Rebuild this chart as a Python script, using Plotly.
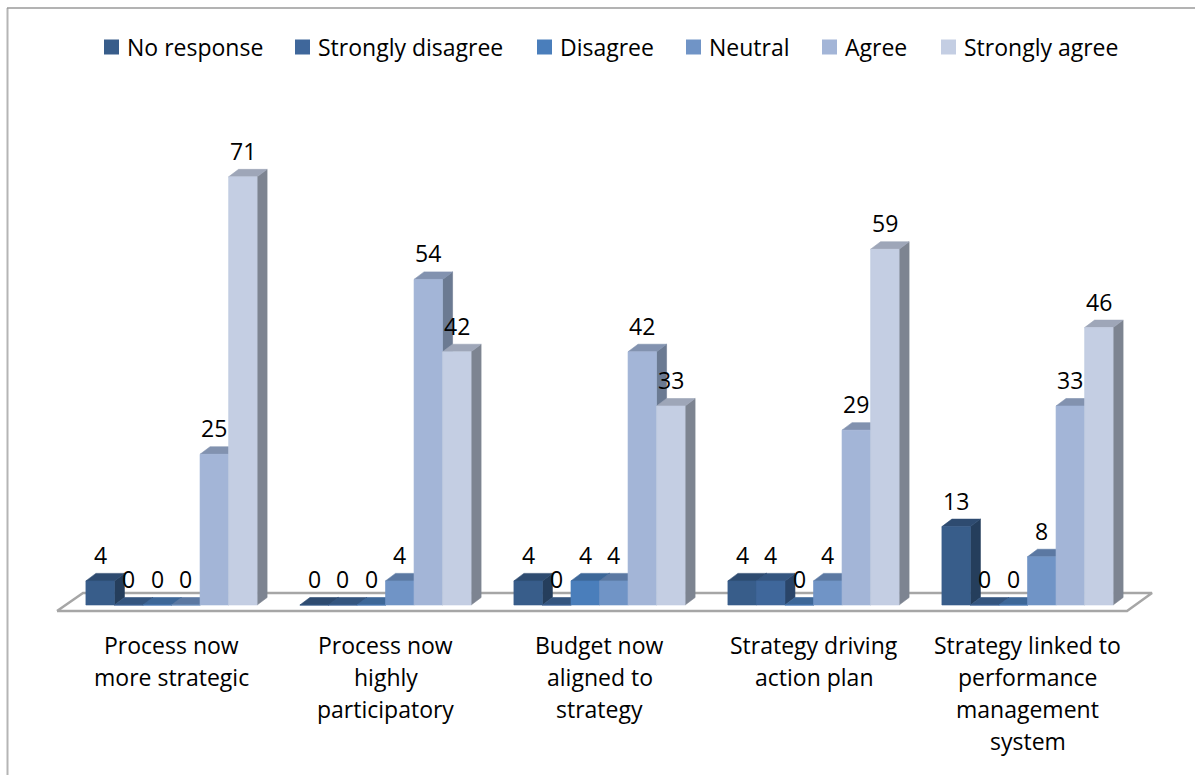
import plotly.graph_objects as go

# ---- data -------------------------------------------------------------
category_lines = [
    ["Process now", "more strategic"],
    ["Process now", "highly", "participatory"],
    ["Budget now", "aligned to", "strategy"],
    ["Strategy driving", "action plan"],
    ["Strategy linked to", "performance", "management", "system"],
]
series_names = ["No response", "Strongly disagree", "Disagree", "Neutral", "Agree", "Strongly agree"]
no_response = [4, 0, 4, 4, 13]
strongly_disagree = [0, 0, 0, 4, 0]
disagree = [0, 0, 4, 0, 0]
neutral = [0, 4, 4, 4, 8]
agree = [25, 54, 42, 29, 33]
strongly_agree = [71, 42, 33, 59, 46]
series_values = [no_response, strongly_disagree, disagree, neutral, agree, strongly_agree]

# ---- style ------------------------------------------------------------
front_colors = ["#385D8A", "#3F679B", "#4A7EBB", "#7094C6", "#A3B5D7", "#C4CEE3"]
top_colors = ["#2E4B70", "#34557F", "#3D6798", "#5B78A2", "#8292AF", "#9EA6B8"]
side_colors = ["#253E5C", "#2A4569", "#30537C", "#4A6284", "#6B7A92", "#7D8491"]

W, H = 1195, 775
FONT = "Open Sans"
FS = 23
TEXT = "#000000"

# axis scaling: category centres 214 px apart, 6.03 px per unit, baseline at 605 px
PX_PER_CAT = 214.0
PX_PER_UNIT = 6.03
X0_PX = 171.5
BASE_PX = 605.0
x_range = [-X0_PX / PX_PER_CAT, (W - X0_PX) / PX_PER_CAT]
y_range = [-(H - BASE_PX) / PX_PER_UNIT, BASE_PX / PX_PER_UNIT]


def dx(px):
    return (px - X0_PX) / PX_PER_CAT


def dy(py):
    return (BASE_PX - py) / PX_PER_UNIT


group_width = 0.8
bar_w = group_width / len(series_names)
depth_x = 10 / PX_PER_CAT
depth_y = 7.5 / PX_PER_UNIT

fig = go.Figure()

# floor slab outline
floor_x = [dx(57), dx(1127), dx(1152), dx(83), dx(57)]
floor_y = [dy(611), dy(611), dy(593), dy(593), dy(611)]
fig.add_trace(go.Scatter(x=floor_x, y=floor_y, mode="lines", fill="toself",
                         fillcolor="white", line=dict(color="#A6A6A6", width=2.5),
                         hoverinfo="skip", showlegend=False))

annotations = []
for j, (name, vals) in enumerate(zip(series_names, series_values)):
    sx, sy, tx, ty, fx, fy = [], [], [], [], [], []
    for i, v in enumerate(vals):
        x0 = i - group_width / 2 + j * bar_w
        x1 = x0 + bar_w
        # right side face
        sx += [x1, x1 + depth_x, x1 + depth_x, x1, x1, None]
        sy += [0, depth_y, v + depth_y, v, 0, None]
        # top face
        tx += [x0, x1, x1 + depth_x, x0 + depth_x, x0, None]
        ty += [v, v, v + depth_y, v + depth_y, v, None]
        # front face
        fx += [x0, x1, x1, x0, x0, None]
        fy += [0, 0, v, v, 0, None]
        annotations.append(dict(x=(x0 + x1) / 2, y=v, xref="x", yref="y", text=str(v),
                                showarrow=False, yanchor="middle", yshift=26,
                                font=dict(family=FONT, size=FS, color=TEXT)))
    for xs, ys, col in ((sx, sy, side_colors[j]), (tx, ty, top_colors[j]), (fx, fy, front_colors[j])):
        fig.add_trace(go.Scatter(x=xs, y=ys, mode="lines", fill="toself", fillcolor=col,
                                 line=dict(color=col, width=0.6), hoverinfo="skip",
                                 showlegend=False, name=name))

# category labels, one line per annotation
LINE_PX = 32
for i, lines in enumerate(category_lines):
    for k, line in enumerate(lines):
        annotations.append(dict(x=i, y=dy(645 + k * LINE_PX), xref="x", yref="y", text=line,
                                showarrow=False, xanchor="center", yanchor="middle",
                                font=dict(family=FONT, size=FS, color=TEXT)))

# legend
shapes = []
legend_left = [104, 295, 537, 686, 822, 941]
LEG_Y = 47
SQ = 15
for name, col, lx in zip(series_names, front_colors, legend_left):
    shapes.append(dict(type="rect", xref="paper", yref="paper",
                       x0=lx / W, x1=(lx + SQ) / W,
                       y0=1 - (LEG_Y + SQ / 2) / H, y1=1 - (LEG_Y - SQ / 2) / H,
                       fillcolor=col, line=dict(width=0)))
    annotations.append(dict(x=(lx + SQ + 6) / W, y=1 - LEG_Y / H, xref="paper", yref="paper",
                            text=name, showarrow=False, xanchor="left", yanchor="middle",
                            font=dict(family=FONT, size=FS, color=TEXT)))

# chart area border (left and top edges)
shapes.append(dict(type="line", xref="paper", yref="paper", x0=7.5 / W, x1=7.5 / W,
                   y0=0, y1=1 - 8 / H, line=dict(color="#B5B5B5", width=2)))
shapes.append(dict(type="line", xref="paper", yref="paper", x0=7 / W, x1=1,
                   y0=1 - 8 / H, y1=1 - 8 / H, line=dict(color="#9A9A9A", width=1.5)))

fig.update_layout(
    width=W, height=H, autosize=False,
    margin=dict(l=0, r=0, t=0, b=0),
    paper_bgcolor="white", plot_bgcolor="white",
    xaxis=dict(range=x_range, visible=False, fixedrange=True),
    yaxis=dict(range=y_range, visible=False, fixedrange=True),
    showlegend=False,
    annotations=annotations,
    shapes=shapes,
)

fig.write_html("out.html")
